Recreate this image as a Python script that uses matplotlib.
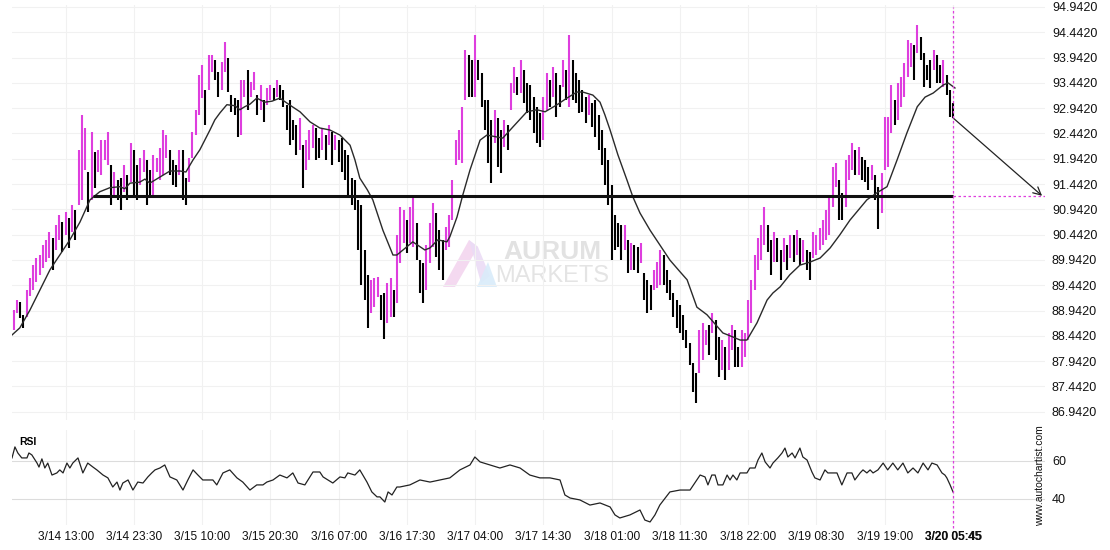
"""Price chart with pattern forecast and RSI panel."""

import matplotlib
matplotlib.use("Agg")
import matplotlib.pyplot as plt
import numpy as np
import pandas as pd
from matplotlib import transforms
from matplotlib.lines import Line2D
from matplotlib.patches import Polygon

plt.rcParams["font.family"] = ["Liberation Sans", "DejaVu Sans"]

# ---- data (30-minute bars, 3/14 05:00 onwards) ----
start_time = "2024-03-14 05:00"

bar_lo = [
    88.56, 88.90, 88.80, 88.60, 88.82, 89.23, 89.35, 89.51, 89.65, 89.78,
    89.90, 89.98, 89.75, 90.14, 90.34, 90.10, 90.44, 90.18, 90.50, 90.34,
    91.03, 91.13, 91.72, 90.89, 91.13, 91.37, 91.68, 91.62, 91.92, 91.82,
    91.03, 91.17, 91.13, 90.93, 91.29, 91.13, 91.48, 91.23, 91.13, 91.42,
    91.68, 91.03, 91.17, 91.23, 91.68, 91.52, 91.62, 91.96, 91.62, 91.42,
    91.38, 91.62, 91.13, 91.03, 91.48, 91.96, 92.41, 92.81, 93.14, 92.61,
    93.30, 93.66, 93.50, 93.16, 93.30, 93.66, 93.26, 92.87, 92.81, 92.37,
    92.41, 93.16, 92.91, 93.16, 93.30, 92.81, 92.91, 92.67, 93.00, 93.10,
    93.10, 93.16, 93.10, 92.97, 92.51, 92.22, 92.31, 92.02, 92.12, 91.37,
    91.72, 91.92, 92.16, 91.92, 91.96, 92.12, 91.92, 92.22, 91.82, 92.12,
    91.88, 91.68, 91.52, 91.23, 91.03, 90.93, 90.14, 89.45, 89.15, 88.60,
    88.90, 89.01, 89.21, 88.76, 88.38, 88.70, 88.82, 88.82, 89.09, 89.88,
    90.28, 90.08, 90.28, 90.20, 89.94, 89.29, 89.09, 89.35, 89.88, 90.20,
    90.00, 89.74, 89.55, 90.14, 90.20, 90.73, 91.82, 91.92, 91.86, 93.10,
    93.16, 93.16, 93.16, 93.50, 92.97, 92.51, 91.86, 91.46, 92.25, 91.78,
    91.66, 92.18, 92.12, 92.91, 93.24, 93.20, 93.24, 93.04, 92.85, 92.71,
    92.45, 92.25, 92.18, 92.31, 92.91, 92.97, 93.16, 92.77, 92.97, 93.36,
    93.10, 92.97, 93.10, 93.04, 92.85, 92.87, 92.65, 92.81, 92.57, 92.37,
    92.12, 91.82, 91.42, 91.03, 89.94, 90.14, 90.20, 89.94, 90.14, 89.68,
    89.75, 89.75, 89.68, 89.88, 89.15, 88.90, 88.96, 89.35, 89.39, 89.45,
    89.45, 89.29, 89.15, 88.82, 88.60, 88.50, 88.36, 88.20, 87.87, 87.33,
    87.12, 87.71, 87.97, 88.26, 88.06, 88.50, 87.97, 87.63, 87.77, 87.57,
    87.77, 88.16, 87.83, 87.83, 87.83, 88.02, 88.36, 88.69, 89.35, 89.74,
    89.94, 90.24, 90.10, 89.65, 89.90, 89.90, 89.55, 89.90, 89.74, 89.98,
    89.90, 90.04, 89.84, 89.90, 89.75, 89.55, 89.98, 90.04, 90.14, 90.24,
    90.34, 90.44, 90.99, 91.38, 90.73, 90.73, 90.99, 91.52, 91.72, 91.62,
    91.62, 91.52, 91.48, 91.33, 91.52, 91.13, 90.55, 90.87, 91.72, 91.78,
    92.45, 92.61, 92.71, 92.97, 93.16, 93.56, 93.76, 93.50, 94.03, 93.89,
    93.36, 93.50, 93.34, 93.70, 93.44, 93.44, 93.36, 93.20, 92.77, 92.75,
]
bar_hi = [
    88.95, 89.15, 89.11, 88.86, 89.35, 89.59, 89.84, 89.98, 90.04, 90.24,
    90.34, 90.50, 90.38, 90.63, 90.83, 90.69, 90.89, 90.77, 91.03, 90.93,
    92.12, 92.81, 92.55, 91.68, 92.47, 92.08, 92.12, 92.31, 92.31, 92.47,
    91.82, 91.68, 91.52, 91.56, 91.82, 91.62, 92.25, 92.12, 91.82, 91.96,
    92.12, 91.92, 91.72, 92.02, 91.96, 92.16, 92.51, 92.41, 92.12, 91.92,
    91.82, 92.12, 92.12, 91.56, 91.96, 92.47, 92.91, 93.60, 93.80, 93.30,
    93.99, 93.99, 93.89, 93.66, 93.85, 94.25, 93.93, 93.20, 93.14, 93.10,
    93.50, 93.50, 93.70, 93.46, 93.66, 93.20, 93.40, 93.10, 93.34, 93.40,
    93.34, 93.50, 93.40, 93.30, 93.00, 93.10, 92.71, 92.61, 92.75, 92.22,
    92.31, 92.51, 92.61, 92.55, 92.35, 92.55, 92.41, 92.61, 92.47, 92.41,
    92.31, 92.35, 92.12, 92.02, 91.56, 91.52, 91.13, 91.03, 90.14, 89.65,
    89.55, 89.59, 89.61, 89.25, 89.29, 89.49, 89.59, 89.35, 90.44, 90.99,
    90.93, 90.73, 90.99, 91.23, 90.67, 89.94, 89.88, 90.24, 90.67, 91.07,
    90.87, 90.53, 90.34, 90.59, 90.83, 91.52, 92.31, 92.51, 92.97, 94.09,
    93.99, 93.89, 94.39, 93.89, 93.64, 93.10, 93.10, 92.71, 92.91, 92.75,
    92.51, 92.71, 92.61, 93.44, 93.76, 93.56, 93.89, 93.70, 93.44, 93.40,
    93.16, 92.97, 92.85, 93.16, 93.64, 93.50, 93.76, 93.64, 93.40, 93.89,
    93.70, 94.39, 93.89, 93.64, 93.50, 93.30, 93.16, 93.20, 93.04, 93.10,
    92.81, 92.51, 92.16, 91.92, 91.42, 90.83, 90.67, 90.63, 90.63, 90.34,
    90.28, 90.24, 90.20, 90.28, 89.68, 89.55, 89.45, 89.74, 89.90, 90.14,
    90.04, 89.74, 89.55, 89.29, 89.15, 89.06, 88.86, 88.56, 88.30, 87.91,
    87.71, 88.56, 88.69, 88.56, 88.65, 88.90, 88.76, 88.42, 88.36, 88.22,
    88.50, 88.65, 88.56, 88.22, 88.56, 88.50, 89.15, 89.55, 90.04, 90.38,
    90.63, 90.99, 90.63, 90.34, 90.49, 90.38, 90.14, 90.38, 90.24, 90.44,
    90.44, 90.53, 90.38, 90.34, 90.14, 90.10, 90.49, 90.44, 90.57, 90.73,
    90.93, 91.23, 91.78, 91.86, 91.52, 91.27, 91.92, 92.02, 92.25, 92.12,
    92.18, 91.98, 91.92, 91.78, 91.82, 91.62, 91.38, 91.66, 92.77, 92.77,
    93.40, 93.10, 93.44, 93.56, 93.83, 94.29, 94.23, 94.19, 94.59, 94.35,
    94.03, 93.80, 93.89, 94.09, 94.00, 93.80, 93.89, 93.60, 93.30, 93.04,
]

# moving average (bar position, price)
ma_pos = [
    -0.5, 1.9, 5.0, 8.1, 11.2, 14.2, 17.3, 20.4, 23.5, 26.5, 29.6, 32.7, 34.2,
    35.8, 38.8, 40.4, 41.9, 45.0, 48.1, 51.2, 53.0, 55.2, 57.3, 60.4, 61.9,
    63.5, 65.6, 68.1, 69.6, 71.1, 72.7, 74.8, 77.3, 79.5, 81.9, 84.8, 88.1,
    91.2, 94.2, 97.3, 100.4, 103.5, 105.0, 106.5, 108.8, 110.5, 113.6, 116.7,
    117.9, 119.8, 122.8, 126.5, 128.1, 130.5, 133.3, 134.2, 136.4, 138.2,
    140.4, 143.5, 145.6, 150.5, 153.6, 157.9, 161.0, 163.5, 167.2, 170.2,
    173.3, 175.1, 178.2, 180.4, 181.9, 183.5, 185.9, 188.7, 190.5, 192.7,
    195.8, 198.8, 201.9, 205.0, 207.2, 210.2, 213.3, 218.2, 221.3, 223.5,
    225.6, 228.7, 231.8, 233.6, 235.8, 238.8, 241.9, 245.0, 248.1, 251.2,
    254.2, 257.3, 262.5, 265.6, 268.7, 271.8, 274.8, 278.0, 280.4, 282.9,
    286.0, 287.5, 289.6,
]
ma_val = [
    88.46, 88.60, 88.95, 89.35, 89.75, 90.04, 90.34, 90.69, 91.13, 91.29,
    91.37, 91.39, 91.35, 91.46, 91.48, 91.54, 91.46, 91.58, 91.70, 91.70,
    91.68, 91.92, 92.12, 92.51, 92.71, 92.85, 93.01, 92.99, 92.91, 92.97,
    93.02, 93.14, 93.06, 93.08, 93.14, 93.01, 92.87, 92.67, 92.55, 92.51,
    92.41, 92.21, 91.92, 91.56, 91.33, 91.13, 90.53, 90.04, 90.04, 90.14,
    90.30, 90.14, 90.18, 90.34, 90.30, 90.40, 90.79, 91.23, 91.72, 92.31,
    92.41, 92.35, 92.57, 92.87, 92.91, 92.87, 93.01, 93.14, 93.26, 93.26,
    93.20, 93.06, 92.81, 92.51, 92.02, 91.52, 91.19, 90.87, 90.53, 90.24,
    89.94, 89.71, 89.55, 89.01, 88.86, 88.50, 88.42, 88.36, 88.36, 88.70,
    89.15, 89.29, 89.41, 89.65, 89.84, 89.90, 89.98, 90.18, 90.44, 90.73,
    91.13, 91.27, 91.39, 91.92, 92.45, 92.97, 93.16, 93.24, 93.40, 93.44,
    93.34,
]

# RSI (bar position, value)
rsi_pos = [
    -0.5, 0.4, 1.3, 2.5, 4.1, 4.7, 5.6, 7.2, 7.8, 8.7, 9.6, 10.5, 11.8, 13.3,
    14.2, 15.2, 16.4, 17.3, 18.2, 19.8, 21.3, 22.8, 24.4, 25.6, 27.5, 29.0,
    30.5, 31.8, 32.7, 33.6, 35.2, 36.7, 38.2, 39.8, 41.3, 42.5, 43.5, 45.0,
    46.5, 48.1, 50.2, 52.1, 53.6, 55.2, 56.7, 58.2, 61.3, 62.5, 64.4, 66.5,
    68.7, 70.5, 72.7, 74.8, 76.7, 77.9, 79.8, 81.9, 84.1, 85.9, 87.5, 89.6,
    92.1, 94.2, 95.2, 96.7, 98.2, 100.4, 101.9, 102.8, 105.0, 106.5, 108.7,
    110.2, 111.8, 112.7, 114.2, 115.2, 116.4, 117.9, 118.8, 121.9, 125.0,
    128.1, 131.2, 134.2, 137.3, 140.4, 141.9, 143.5, 146.5, 149.6, 152.7,
    155.8, 158.8, 161.9, 165.0, 168.1, 169.6, 171.2, 174.2, 177.3, 180.4,
    183.5, 185.0, 186.5, 189.6, 192.7, 194.2, 195.8, 197.3, 198.8, 201.9,
    205.0, 208.1, 211.2, 212.7, 213.6, 214.8, 215.8, 216.7, 218.2, 219.5,
    220.4, 221.3, 222.5, 223.5, 225.6, 226.5, 228.1, 229.0, 230.2, 231.2,
    232.7, 233.6, 235.1, 236.4, 237.3, 238.2, 239.5, 240.4, 241.9, 242.8,
    244.1, 245.6, 246.5, 248.1, 249.6, 250.5, 253.3, 254.8, 256.4, 257.9,
    258.8, 260.4, 261.3, 262.5, 263.5, 264.4, 265.9, 267.5, 268.9, 270.5,
    272.0, 273.6, 275.1, 276.7, 278.2, 279.8, 281.3, 282.5, 284.1, 285.6,
    286.5, 287.1, 288.1, 289.0,
]
rsi_val = [
    61.6, 67.4, 64.2, 61.6, 61.6, 64.2, 63.2, 58.9, 56.8, 61.1, 56.3, 58.9,
    52.6, 53.7, 55.3, 53.7, 58.9, 56.3, 58.9, 61.6, 53.7, 58.9, 56.8, 55.3,
    52.6, 51.1, 46.3, 48.9, 44.7, 48.4, 50.0, 44.7, 48.9, 48.4, 51.6, 53.7,
    55.3, 56.3, 57.9, 51.6, 50.0, 44.7, 50.0, 55.3, 52.6, 50.0, 50.0, 47.4,
    53.7, 55.3, 51.1, 48.9, 44.7, 47.4, 47.4, 48.9, 50.0, 52.6, 51.1, 53.7,
    48.4, 47.4, 54.2, 54.2, 51.6, 50.0, 48.4, 51.6, 51.1, 53.7, 52.6, 55.3,
    48.9, 43.7, 41.1, 41.1, 38.4, 43.7, 42.1, 46.3, 46.3, 47.4, 50.0, 48.9,
    50.0, 51.1, 55.3, 57.9, 62.1, 59.5, 57.9, 56.3, 57.9, 56.3, 52.6, 51.1,
    51.1, 50.0, 42.1, 40.5, 39.5, 36.8, 37.9, 35.8, 31.6, 30.0, 31.6, 34.2,
    28.9, 27.9, 31.6, 36.8, 43.7, 44.7, 44.7, 52.6, 51.6, 47.4, 52.6, 52.6,
    47.4, 47.4, 52.6, 50.0, 52.6, 50.0, 53.7, 53.7, 56.3, 56.3, 60.5, 64.2,
    59.5, 56.3, 58.9, 61.6, 64.2, 66.8, 62.1, 64.2, 61.6, 66.8, 62.1, 60.5,
    54.2, 51.1, 50.0, 55.3, 53.7, 53.7, 47.4, 53.7, 53.7, 50.0, 53.7, 55.3,
    53.7, 55.3, 53.7, 55.3, 58.9, 55.3, 58.9, 55.3, 58.9, 53.7, 56.3, 53.7,
    58.9, 55.3, 58.9, 57.9, 53.7, 52.6, 51.1, 47.4, 43.7,
]

support_level = 91.21
support_start = 24.5
last_price = 92.75
forecast_bars = 27.4

price_ticks = [86.942 + 0.5 * k for k in range(17)]
rsi_ticks = [40, 60]
tick_every = 21
first_tick = 16

MAGENTA = "#de3ede"

# ---- figure, laid out in pixels ----
W, H = 1110, 550
fig = plt.figure(figsize=(W / 100, H / 100), dpi=100)


def px_rect(left, top, right, bottom):
    return [left / W, 1 - bottom / H, (right - left) / W, (bottom - top) / H]


ax = fig.add_axes(px_rect(12, 5, 1045, 420))
ax_rsi = fig.add_axes(px_rect(12, 430, 1045, 525), sharex=ax)
ax.patch.set_visible(False)
ax_rsi.patch.set_visible(False)

lo = np.array(bar_lo)
hi = np.array(bar_hi)
idx = np.arange(len(lo))
mid = (lo + hi) / 2
rising = np.r_[True, np.diff(mid) > 0]
colors = [MAGENTA if r else "black" for r in rising]
last_idx = idx[-1]

ax.vlines(idx, lo, hi, colors=colors, lw=1.5, zorder=3)
ax.plot(ma_pos, ma_val, color="#2a2a2a", lw=1.0, zorder=4)

ax.hlines(support_level, support_start, last_idx, color="#111111", lw=2.2, zorder=5)
ax.hlines(support_level, last_idx, last_idx + forecast_bars + 1, color=MAGENTA,
          lw=0.9, linestyles=(0, (2, 2)), zorder=5)
ax.annotate("", xy=(last_idx + forecast_bars, support_level),
            xytext=(last_idx, last_price),
            arrowprops=dict(arrowstyle="->,head_length=0.55,head_width=0.28",
                            color="#222222", lw=0.9, shrinkA=0, shrinkB=0),
            zorder=6)

ax.set_xlim(-0.5, 317.3)
ax.set_ylim(86.78, 94.98)
ax.set_yticks(price_ticks)
ax.set_yticklabels([f"{v:.4f}" for v in price_ticks])
ax.yaxis.tick_right()
ax.tick_params(axis="y", length=0, pad=5, labelsize=9, labelcolor="#111111")
ax.tick_params(axis="x", length=0, labelbottom=False)

bar_times = pd.date_range(start_time, periods=len(lo), freq="30min")
tick_pos = list(range(first_tick, len(lo), tick_every))
tick_lab = [f"{t.month}/{t.day} {t:%H:%M}" for t in bar_times[tick_pos]]
now_time = bar_times[-1] + pd.Timedelta(minutes=15)
tick_pos.append(last_idx)
tick_lab.append(f"{now_time.month}/{now_time.day} {now_time:%H:%M}")

ax.set_xticks(tick_pos)
ax.grid(True, color="#f1f1f1", lw=0.8)
ax.set_axisbelow(True)
for s in ax.spines.values():
    s.set_visible(False)

# vertical "now" marker across both panels
trans = transforms.blended_transform_factory(ax.transData, fig.transFigure)
fig.add_artist(Line2D([last_idx, last_idx], [1 - 528 / H, 1 - 7 / H],
                      transform=trans, color=MAGENTA, lw=0.9,
                      ls=(0, (2, 2)), zorder=10))

# ---- RSI panel ----
ax_rsi.plot(rsi_pos, rsi_val, color="#222222", lw=0.9)
ax_rsi.set_ylim(26.3, 76.3)
ax_rsi.set_yticks(rsi_ticks)
ax_rsi.yaxis.tick_right()
ax_rsi.tick_params(axis="y", length=0, pad=5, labelsize=9, labelcolor="#111111")
ax_rsi.set_xticks(tick_pos)
ax_rsi.set_xticklabels(tick_lab)
ax_rsi.tick_params(axis="x", length=0, pad=4, labelsize=8.6, labelcolor="#111111")
ax_rsi.get_xticklabels()[-1].set_fontweight("bold")
ax_rsi.grid(True, axis="x", color="#f1f1f1", lw=0.8)
ax_rsi.grid(True, axis="y", color="#dcdcdc", lw=0.8)
ax_rsi.set_axisbelow(True)
for s in ax_rsi.spines.values():
    s.set_visible(False)
ax_rsi.text(0.007, 0.93, "RSI", transform=ax_rsi.transAxes, fontsize=7.5,
            fontweight="bold", va="top", ha="left")

fig.text(1040 / W, 1 - 476 / H, "www.autochartist.com", rotation=90,
         fontsize=7.5, ha="center", va="center", color="#111111")


# ---- watermark ----
def fig_xy(x, y):
    return (x / W, 1 - y / H)


logo = [
    ([(443, 287), (455, 287), (478, 247), (469, 240)], "#f3d5ef"),
    ([(469, 240), (478, 247), (490, 276), (481, 283)], "#ebdcf6"),
    ([(477, 287), (497, 287), (488, 262)], "#d9ecfa"),
]
for pts, col in logo:
    fig.add_artist(Polygon([fig_xy(*p) for p in pts], closed=True,
                           transform=fig.transFigure, facecolor=col,
                           edgecolor="none", alpha=0.9, zorder=-1))
fig.text(*fig_xy(552, 252), "AURUM", fontsize=19, fontweight="bold",
         color="#e2e2e2", ha="center", va="center", zorder=-1)
fig.text(*fig_xy(552, 276), "MARKETS", fontsize=17, color="#e4e4e4",
         ha="center", va="center", zorder=-1)

fig.savefig("out.png", dpi=100)
